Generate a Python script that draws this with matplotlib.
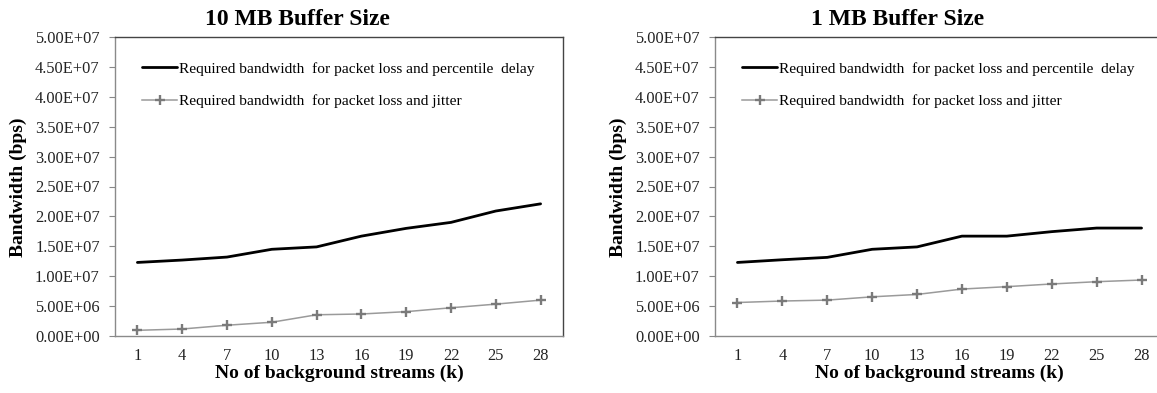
import numpy as np
import matplotlib
matplotlib.use("Agg")
import matplotlib.pyplot as plt
from matplotlib.ticker import FuncFormatter

# ---- data ----
streams = [1, 4, 7, 10, 13, 16, 19, 22, 25, 28]

delay_10mb = [1.23e7, 1.27e7, 1.32e7, 1.45e7, 1.49e7, 1.67e7, 1.80e7, 1.90e7, 2.09e7, 2.21e7]
jitter_10mb = [0.95e6, 1.17e6, 1.80e6, 2.30e6, 3.55e6, 3.68e6, 4.07e6, 4.72e6, 5.33e6, 6.00e6]

delay_1mb = [1.23e7, 1.275e7, 1.315e7, 1.45e7, 1.49e7, 1.67e7, 1.67e7, 1.745e7, 1.805e7, 1.805e7]
jitter_1mb = [5.6e6, 5.85e6, 6.0e6, 6.55e6, 6.95e6, 7.85e6, 8.25e6, 8.70e6, 9.08e6, 9.36e6]

titles = ["10 MB Buffer Size", "1 MB Buffer Size"]
label_delay = "Required bandwidth  for packet loss and percentile  delay"
label_jitter = "Required bandwidth  for packet loss and jitter"
xlabel = "No of background streams (k)"
ylabel = "Bandwidth (bps)"
yticks = [0, 5e6, 1e7, 1.5e7, 2e7, 2.5e7, 3e7, 3.5e7, 4e7, 4.5e7, 5e7]

plt.rcParams['font.family'] = ['Liberation Serif', 'DejaVu Serif']

W, H = 1157, 393
fig = plt.figure(figsize=(W / 100, H / 100), dpi=100)

panels = [
    (115, 563, delay_10mb, jitter_10mb, titles[0]),
    (715, 1164, delay_1mb, jitter_1mb, titles[1]),
]

top_px, bot_px = 37, 336
x = np.arange(len(streams))

for (lpx, rpx, dvals, jvals, title) in panels:
    ax = fig.add_axes([lpx / W, (H - bot_px) / H, (rpx - lpx) / W, (bot_px - top_px) / H])
    ax.plot(x, dvals, color='black', lw=2.0, solid_capstyle='round', label=label_delay)
    ax.plot(x, jvals, color='#9a9a9a', lw=1.1, marker='+', markersize=7.5,
            markeredgewidth=1.7, markeredgecolor='#7a7a7a', label=label_jitter)
    ax.set_xlim(-0.5, len(streams) - 0.5)
    ax.set_ylim(0, 5e7)
    ax.set_xticks(x)
    ax.set_xticklabels([str(s) for s in streams])
    ax.set_yticks(yticks)
    ax.yaxis.set_major_formatter(FuncFormatter(lambda v, p: f"{v:.2E}"))
    ax.tick_params(axis='y', length=4, width=0.8, color='#888888', pad=7,
                   labelsize=11.8, labelcolor='#222222', direction='out')
    ax.tick_params(axis='x', length=0, pad=9, labelsize=11.8, labelcolor='#222222')
    for side in ['left', 'bottom']:
        ax.spines[side].set_color('#8a8a8a')
        ax.spines[side].set_linewidth(1.0)
    for side in ['top', 'right']:
        ax.spines[side].set_color('#444444')
        ax.spines[side].set_linewidth(1.0)

    leg = ax.legend(loc='upper left', bbox_to_anchor=(27 / (rpx - lpx), 1 - 25 / (bot_px - top_px)),
                    frameon=False, fontsize=11.1, handlelength=2.3, handletextpad=0.1,
                    labelspacing=1.2, borderpad=0, borderaxespad=0, numpoints=1)

    cx = (lpx + rpx) / 2
    fig.text((cx - 42) / W, 1 - 25 / H, title, ha='center', va='baseline',
             fontsize=17, fontweight='bold')
    fig.text(cx / W, 1 - 378 / H, xlabel, ha='center', va='baseline',
             fontsize=14, fontweight='bold')
    fig.text((lpx - 97) / W, 1 - 187 / H, ylabel, ha='center', va='center',
             rotation=90, fontsize=14, fontweight='bold')

fig.savefig("out.png", dpi=100)
